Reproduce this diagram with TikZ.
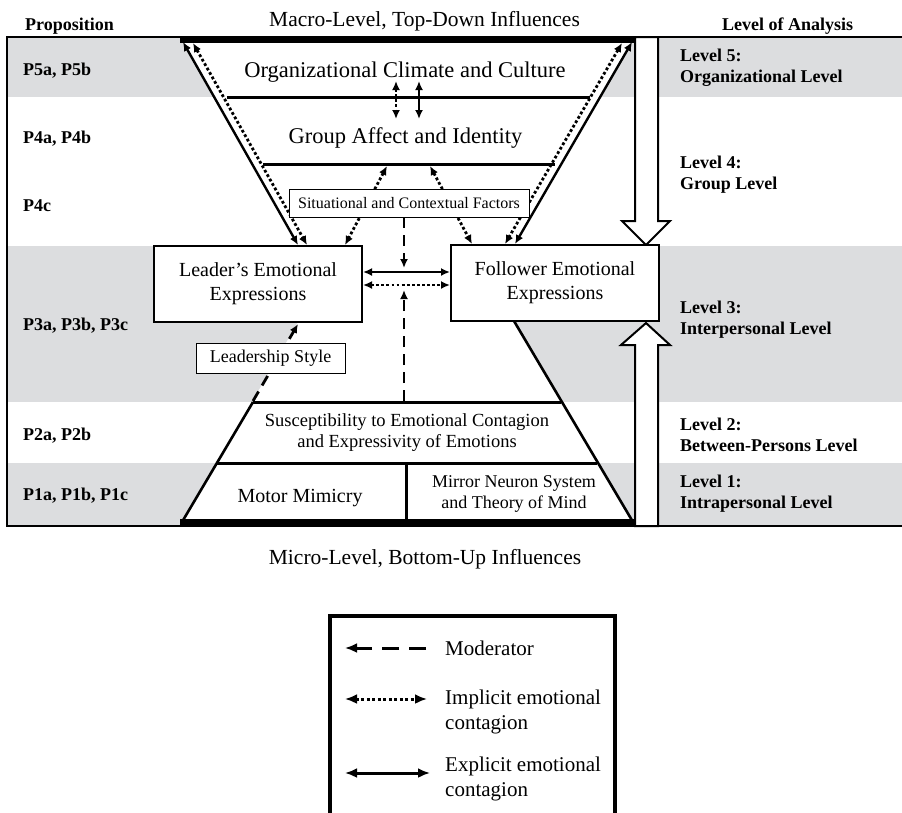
\documentclass[tikz,border=0pt]{standalone}
\usepackage{fontspec}
\setmainfont{Liberation Serif}
\usetikzlibrary{arrows.meta}
\definecolor{bandgray}{HTML}{DCDDDF}
\newcommand\myfs[2]{\fontsize{#1}{#2}\selectfont}
\newcommand\twoleft[2]{\begin{tabular}[t]{@{}l@{}}#1\\#2\end{tabular}}
\begin{document}
\begin{tikzpicture}[x=1pt,y=-1pt,
  box/.style={draw, line width=2.3pt, fill=white, align=center, inner sep=0pt, minimum width=208pt, minimum height=76pt, font=\myfs{20}{24}},
  thinbox/.style={draw, line width=1pt, fill=white, inner sep=0pt},
  solidarr/.style={line width=2.4pt, {Latex[length=9pt,width=8pt]}-{Latex[length=9pt,width=8pt]}},
  dotarr/.style={line width=2.8pt, dash pattern=on 2.8pt off 2.3pt, {Latex[length=9pt,width=8pt]}-{Latex[length=9pt,width=8pt]}},
  modarr/.style={line width=2.8pt, dash pattern=on 11pt off 7pt, -{Latex[length=9pt,width=8pt]}},
  legsolid/.style={line width=3pt, {Latex[length=12pt,width=10pt]}-{Latex[length=12pt,width=10pt]}},
  legdot/.style={line width=3pt, dash pattern=on 3pt off 2.5pt, {Latex[length=12pt,width=10pt]}-{Latex[length=12pt,width=10pt]}},
  legmod/.style={line width=3pt, dash pattern=on 17pt off 10pt, -{Latex[length=12pt,width=10pt]}},
  hline/.style={line width=3pt},
  diag/.style={line width=2.6pt},
  thick5/.style={line width=5.5pt},
  bigarrow/.style={draw, line width=2pt, fill=white},
  prop/.style={font=\bfseries\myfs{18}{21}, anchor=base west, inner sep=0pt},
  lvl/.style={font=\bfseries\myfs{18}{21}, anchor=base west, inner sep=0pt},
  ttl/.style={font=\myfs{21.5}{24}, anchor=base, inner sep=0pt},
  legtxt/.style={font=\myfs{21}{25}, anchor=base west, inner sep=0pt}
]
\useasboundingbox (0,0) rectangle (902,812);
\fill[white] (0,0) rectangle (902,812);

% gray bands
\fill[bandgray] (7,37) rectangle (902,97);
\fill[bandgray] (7,246) rectangle (902,402);
\fill[bandgray] (7,463) rectangle (902,526);

% white hourglass interior
\fill[white] (183,40) -- (632,40) -- (515,245) -- (514,322) -- (633,524) -- (182,524) -- (298,322) -- (297,245) -- cycle;

% outer frame
\draw[line width=1.2pt] (902,37) -- (7,37) -- (7,526) -- (902,526);

% big arrows
\draw[bigarrow] (635,37) -- (658,37) -- (658,221) -- (670,221) -- (646,245) -- (622,221) -- (635,221) -- cycle;
\draw[bigarrow] (646,323) -- (670,345) -- (658,345) -- (658,526) -- (635,526) -- (635,345) -- (621,345) -- cycle;

% coordinates
\coordinate (tl) at (183,42);
\coordinate (tld) at (193,43);
\coordinate (tr) at (632,42);
\coordinate (trd) at (622,43);
\coordinate (lbs) at (298,245);
\coordinate (lbd) at (307,245);
\coordinate (fbs) at (515,244);
\coordinate (fbd) at (505,244);
\coordinate (l5a) at (227,97);
\coordinate (l5b) at (590,97);
\coordinate (l4a) at (263,164);
\coordinate (l4b) at (555,164);
\coordinate (l2a) at (253,402);
\coordinate (l2b) at (561,402);
\coordinate (l1a) at (217,463);
\coordinate (l1b) at (597,463);
\coordinate (bl) at (182,522);
\coordinate (br) at (633,522);
\coordinate (dv1) at (406,463);
\coordinate (dv2) at (406,522);
\coordinate (fdb) at (514,321);

% horizontal lines
\draw[hline] (l5a) -- (l5b);
\draw[hline] (l4a) -- (l4b);
\draw[hline] (l2a) -- (l2b);
\draw[hline] (l1a) -- (l1b);
\draw[hline] (dv1) -- (dv2);

% lower trapezoid sides
\draw[diag] (l2a) -- (bl);
\draw[diag] (fdb) -- (br);

% thick top and bottom
\draw[thick5] (180,40) -- (635,40);
\draw[thick5] (180,522) -- (635,522);

% boxes
\node[box] (leader) at (258,284) {Leader’s Emotional\\Expressions};
\node[box] (follower) at (555,283) {Follower Emotional\\Expressions};

% diagonal contagion arrows
\draw[solidarr] (tl) -- (lbs);
\draw[dotarr] (tld) -- (lbd);
\draw[solidarr] (tr) -- (fbs);
\draw[dotarr] (trd) -- (fbd);

% org <-> group
\coordinate (og1) at (396,81); \coordinate (og2) at (396,119);
\coordinate (og3) at (419,81); \coordinate (og4) at (419,119);
\draw[dotarr] (og1) -- (og2);
\draw[solidarr] (og3) -- (og4);

% group <-> leader/follower (under situational box)
\coordinate (g1) at (387,166); \coordinate (g1b) at (345,245);
\coordinate (g2) at (430,166); \coordinate (g2b) at (472,244);
\draw[dotarr] (g1) -- (g1b);
\draw[dotarr] (g2) -- (g2b);

% leader <-> follower
\coordinate (h1) at (363,272); \coordinate (h2) at (450,272);
\coordinate (h3) at (363,285); \coordinate (h4) at (450,285);
\draw[solidarr] (h1) -- (h2);
\draw[dotarr] (h3) -- (h4);

% moderators
\coordinate (m1) at (404,217); \coordinate (m2) at (404,268);
\coordinate (m3) at (404,401); \coordinate (m4) at (404,290);
\draw[modarr] (m1) -- (m2);
\draw[modarr] (m3) -- (m4);
\coordinate (ls1) at (253,401); \coordinate (ls2) at (298,324);
\draw[modarr] (ls1) -- (ls2);

% small boxes
\node[thinbox, minimum width=240pt, minimum height=28pt, font=\myfs{16}{19}] (sit) at (409,203) {Situational and Contextual Factors};
\node[thinbox, minimum width=149pt, minimum height=30pt, font=\myfs{18}{21}] (lstyle) at (270.5,358) {Leadership Style};

% level texts in hourglass
\node[font=\myfs{22.5}{26}, anchor=base, inner sep=0pt] (org) at (405,77) {Organizational Climate and Culture};
\node[font=\myfs{22.5}{26}, anchor=base, inner sep=0pt] (grp) at (405.5,143) {Group Affect and Identity};
\node[font=\myfs{18.5}{21}, align=center, inner sep=0pt] (sus) at (407,433) {Susceptibility to Emotional Contagion\\and Expressivity of Emotions};
\node[font=\myfs{20}{24}, anchor=base, inner sep=0pt] (motor) at (300,502) {Motor Mimicry};
\node[font=\myfs{18}{21}, align=center, inner sep=0pt] (mirror) at (514,494) {Mirror Neuron System\\and Theory of Mind};

% titles
\node[ttl] (macro) at (424.5,26) {Macro-Level, Top-Down Influences};
\node[ttl] (micro) at (425,564) {Micro-Level, Bottom-Up Influences};
\node[prop] (hprop) at (25,30) {Proposition};
\node[prop] (hlev) at (722,30) {Level of Analysis};

% propositions
\node[prop] (p5) at (23,75) {P5a, P5b};
\node[prop] (p4) at (23,143) {P4a, P4b};
\node[prop] (p4c) at (23,211) {P4c};
\node[prop] (p3) at (23,330) {P3a, P3b, P3c};
\node[prop] (p2) at (23,440) {P2a, P2b};
\node[prop] (p1) at (23,500) {P1a, P1b, P1c};

% levels
\node[lvl] (lv5) at (680,61) {\twoleft{Level 5:}{Organizational Level}};
\node[lvl] (lv4) at (680,168) {\twoleft{Level 4:}{Group Level}};
\node[lvl] (lv3) at (680,313) {\twoleft{Level 3:}{Interpersonal Level}};
\node[lvl] (lv2) at (680,430) {\twoleft{Level 2:}{Between-Persons Level}};
\node[lvl] (lv1) at (680,487) {\twoleft{Level 1:}{Intrapersonal Level}};

% legend
\draw[line width=3.5pt] (330,830) -- (330,616) -- (615,616) -- (615,830);
\coordinate (a1) at (345,648); \coordinate (a2) at (426,648);
\coordinate (b1) at (345,699); \coordinate (b2) at (427,699);
\coordinate (c1) at (345,773); \coordinate (c2) at (430,773);
\draw[legmod] (a2) -- (a1);
\draw[legdot] (b1) -- (b2);
\draw[legsolid] (c1) -- (c2);
\node[legtxt] (tmod) at (445,655) {Moderator};
\node[legtxt] (timp) at (445,704) {\twoleft{Implicit emotional}{contagion}};
\node[legtxt] (texp) at (445,771) {\twoleft{Explicit emotional}{contagion}};
\end{tikzpicture}
\end{document}
